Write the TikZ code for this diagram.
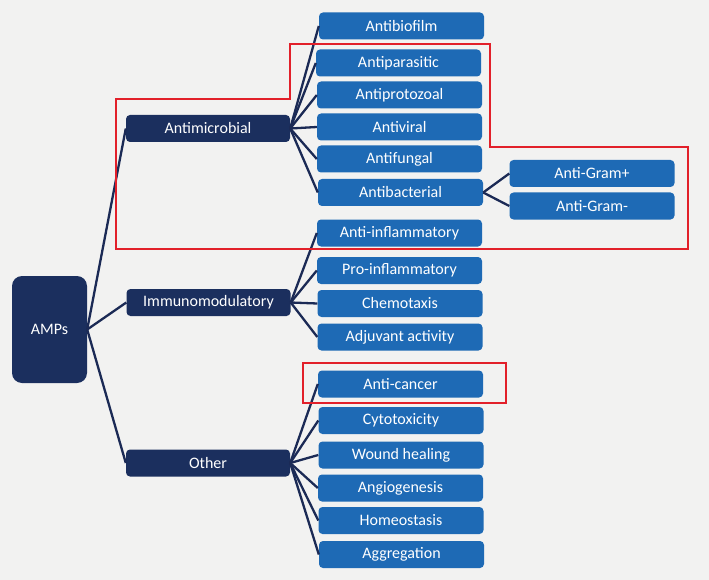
\documentclass[tikz,border=0pt]{standalone}
\usepackage{fontspec}
\setmainfont{Carlito}
\definecolor{bg}{HTML}{F2F2F1}
\definecolor{navy}{HTML}{1B2F5E}
\definecolor{boxblue}{HTML}{1E6AB5}
\definecolor{lineblue}{HTML}{1B2A55}
\definecolor{redline}{HTML}{E2202A}
\tikzset{
  px/.style={x=1pt,y=-1pt},
  darkbox/.style={fill=navy,text=white,rounded corners=4pt,minimum width=164pt,minimum height=27pt,inner sep=0pt,font=\fontsize{16}{18}\selectfont},
  bluebox/.style={fill=boxblue,text=white,rounded corners=4pt,minimum width=165pt,minimum height=27pt,inner sep=0pt,font=\fontsize{16}{18}\selectfont},
  conn/.style={draw=lineblue,line width=2.3pt},
  redbox/.style={draw=redline,line width=2.4pt}
}
\begin{document}
\begin{tikzpicture}[px]
\fill[bg] (0,0) rectangle (709,580);
\useasboundingbox (0,0) rectangle (709,580);
% nodes
\node[darkbox,rounded corners=10pt,minimum width=75pt,minimum height=107pt] (amps) at (49.5,329.5) {AMPs};
\node[darkbox] (antimic) at (208,128.5) {Antimicrobial};
\node[darkbox] (immuno) at (208.5,302.5) {Immunomodulatory};
\node[darkbox] (other) at (208,463) {Other};
\node[bluebox] (biofilm) at (401.5,26) {Antibiofilm};
\node[bluebox] (parasitic) at (398.5,63) {Antiparasitic};
\node[bluebox] (protozoal) at (399.5,95) {Antiprotozoal};
\node[bluebox] (viral) at (399.5,127) {Antiviral};
\node[bluebox] (fungal) at (399.5,159) {Antifungal};
\node[bluebox] (bacterial) at (400.5,192.5) {Antibacterial};
\node[bluebox] (antiinfl) at (399.5,233) {Anti-inflammatory};
\node[bluebox] (gramp) at (592,173.5) {Anti-Gram+};
\node[bluebox] (gramm) at (592,206) {Anti-Gram-};
\node[bluebox] (proinfl) at (399.5,270.5) {Pro-inflammatory};
\node[bluebox] (chemo) at (400,303.5) {Chemotaxis};
\node[bluebox] (adjuv) at (400,337) {Adjuvant activity};
\node[bluebox] (cancer) at (400.5,384) {Anti-cancer};
\node[bluebox] (cyto) at (401,420.5) {Cytotoxicity};
\node[bluebox] (wound) at (401,455) {Wound healing};
\node[bluebox] (angio) at (400.5,488) {Angiogenesis};
\node[bluebox] (homeo) at (401,520.5) {Homeostasis};
\node[bluebox] (aggreg) at (401.5,554.5) {Aggregation};
% connectors
\foreach \c in {antimic,immuno,other} \draw[conn] (amps.east) -- (\c.west);
\foreach \c in {biofilm,parasitic,protozoal,viral,fungal,bacterial} \draw[conn] (antimic.east) -- (\c.west);
\foreach \c in {antiinfl,proinfl,chemo,adjuv} \draw[conn] (immuno.east) -- (\c.west);
\foreach \c in {cancer,cyto,wound,angio,homeo,aggreg} \draw[conn] (other.east) -- (\c.west);
\foreach \c in {gramp,gramm} \draw[conn] (bacterial.east) -- (\c.west);
% red highlight outlines
\draw[redbox] (116,99) -- (290,99) -- (290,44) -- (490,44) -- (490,147) -- (688,147) -- (688,249) -- (116,249) -- cycle;
\draw[redbox] (303,363) rectangle (506,403);
\end{tikzpicture}
\end{document}
